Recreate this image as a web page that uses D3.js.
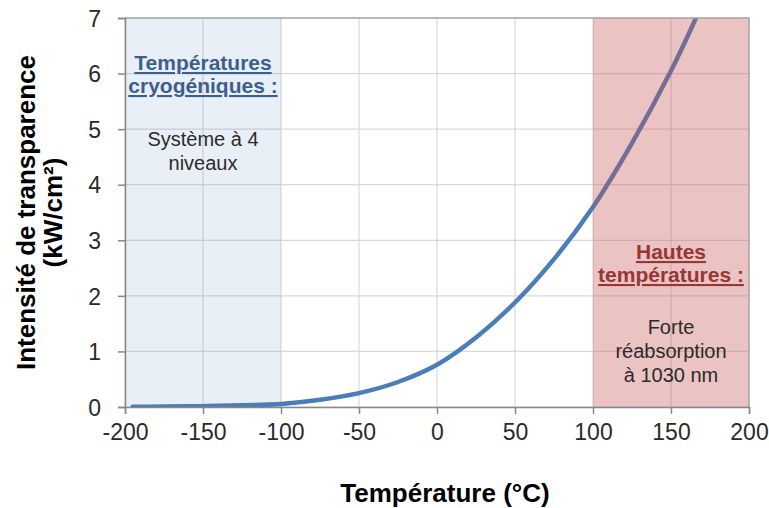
<!DOCTYPE html>
<html>
<head>
<meta charset="utf-8">
<script src="https://cdn.jsdelivr.net/npm/d3@7"></script>
<style>
html,body{margin:0;padding:0;background:#fff;}
text{font-family:"Liberation Sans",Arial,sans-serif;}
</style>
</head>
<body>
<svg id="chart" width="769" height="508"></svg>
<script>
// Data
const temperatures = [-195, -175, -150, -125, -100, -75, -50, -25, 0, 25, 50, 75, 100, 125, 150, 166];
const intensity    = [0.005, 0.008, 0.015, 0.03, 0.055, 0.13, 0.25, 0.45, 0.76, 1.25, 1.88, 2.66, 3.6, 4.75, 6.05, 7.0];
const xTicks = [-200, -150, -100, -50, 0, 50, 100, 150, 200];
const yTicks = [0, 1, 2, 3, 4, 5, 6, 7];
const zones = [
  {from: -200, to: -100, kind: "cryo"},
  {from: 100, to: 200, kind: "hot"}
];
const cryoTitle = ["Températures", "cryogéniques :"];
const cryoText = ["Système à 4", "niveaux"];
const hotTitle = ["Hautes", "températures :"];
const hotText = ["Forte", "réabsorption", "à 1030 nm"];
const xTitle = "Température (°C)";
const yTitle = ["Intensité de transparence", "(kW/cm²)"];

const svg = d3.select("#chart");
const m = {left: 125, right: 20, top: 18, bottom: 101};
const W = 769, H = 508;
const x = d3.scaleLinear().domain([-200, 200]).range([m.left, W - m.right]);
const y = d3.scaleLinear().domain([0, 7]).range([H - m.bottom, m.top]);

// grid
const g = svg.append("g");
g.selectAll("line.h").data(yTicks).join("line")
  .attr("x1", x(-200)).attr("x2", x(200))
  .attr("y1", d => y(d)).attr("y2", d => y(d))
  .attr("stroke", "#d9d9d9").attr("stroke-width", 1.2);
g.selectAll("line.v").data(xTicks).join("line")
  .attr("y1", y(0)).attr("y2", y(7))
  .attr("x1", d => x(d)).attr("x2", d => x(d))
  .attr("stroke", "#d9d9d9").attr("stroke-width", 1.2);

// clip
svg.append("clipPath").attr("id", "clip").append("rect")
  .attr("x", x(-200)).attr("y", y(7)).attr("width", x(200) - x(-200)).attr("height", y(0) - y(7));

// curve
const pts = temperatures.map((t, i) => [t, intensity[i]]);
svg.append("path").datum(pts)
  .attr("clip-path", "url(#clip)")
  .attr("fill", "none").attr("stroke", "#4a7ebb").attr("stroke-width", 4.5)
  .attr("stroke-linecap", "round")
  .attr("d", d3.line().x(d => x(d[0])).y(d => y(d[1])).curve(d3.curveCatmullRom.alpha(0.5)));

// overlays
svg.selectAll("rect.zone").data(zones).join("rect")
  .attr("x", d => x(d.from)).attr("width", d => x(d.to) - x(d.from))
  .attr("y", y(7)).attr("height", y(0) - y(7))
  .attr("fill", d => d.kind === "cryo" ? "rgb(79,129,189)" : "rgb(192,80,77)")
  .attr("fill-opacity", d => d.kind === "cryo" ? 0.13 : 0.34);

// border top/right
svg.append("path")
  .attr("d", `M${x(-200)},${y(7)}H${x(200)}V${y(0)}`)
  .attr("fill", "none").attr("stroke", "#a6a6a6").attr("stroke-width", 1.5);

// axes
const fmt = d => String(d);
const xAxis = svg.append("g").attr("transform", `translate(0,${y(0)})`)
  .call(d3.axisBottom(x).tickValues(xTicks).tickSize(7).tickPadding(10).tickFormat(fmt));
const yAxis = svg.append("g").attr("transform", `translate(${x(-200)},0)`)
  .call(d3.axisLeft(y).tickValues(yTicks).tickSize(7).tickPadding(17).tickFormat(fmt));
[xAxis, yAxis].forEach(a => {
  a.select(".domain").attr("stroke", "#888").attr("stroke-width", 1.5);
  a.selectAll(".tick line").attr("stroke", "#888").attr("stroke-width", 1.5);
  a.selectAll(".tick text").attr("fill", "#2a2a2a").style("font-size", "23px")
    .style("font-family", "'Liberation Sans', Arial, sans-serif");
});
xAxis.selectAll(".tick text").attr("dy", "0.71em");
yAxis.selectAll(".tick text").attr("dy", "0.36em");

// axis titles
svg.append("text").attr("x", 445).attr("y", 502).attr("text-anchor", "middle")
  .style("font-size", "26px").style("font-weight", "bold").attr("fill", "#000").text(xTitle);
const yt = svg.append("text").attr("transform", `translate(35,${(y(0) + y(7)) / 2}) rotate(-90)`)
  .attr("text-anchor", "middle").style("font-size", "26px").style("font-weight", "bold").attr("fill", "#000");
yTitle.forEach((t, i) => yt.append("tspan").attr("x", 0).attr("dy", i === 0 ? 0 : 27).text(t));

// annotations
function block(lines, cx, y0, dy, opts) {
  const t = svg.append("text").attr("text-anchor", "middle")
    .style("font-size", opts.size).style("font-weight", opts.weight || "normal")
    .attr("fill", opts.color);
  if (opts.underline) t.attr("text-decoration", "underline");
  lines.forEach((l, i) => t.append("tspan").attr("x", cx).attr("y", y0 + i * dy).text(l));
}
const cxCryo = (x(-200) + x(-100)) / 2;
const cxHot = (x(100) + x(200)) / 2;
block(cryoTitle, cxCryo, 70, 23, {size: "21px", weight: "bold", color: "#3d5f8d", underline: true});
block(cryoText, cxCryo, 146, 24, {size: "20px", color: "#2b2b2b"});
block(hotTitle, cxHot, 259, 23, {size: "21px", weight: "bold", color: "#953735", underline: true});
block(hotText, cxHot, 334, 24, {size: "20px", color: "#2b2b2b"});
</script>
</body>
</html>
